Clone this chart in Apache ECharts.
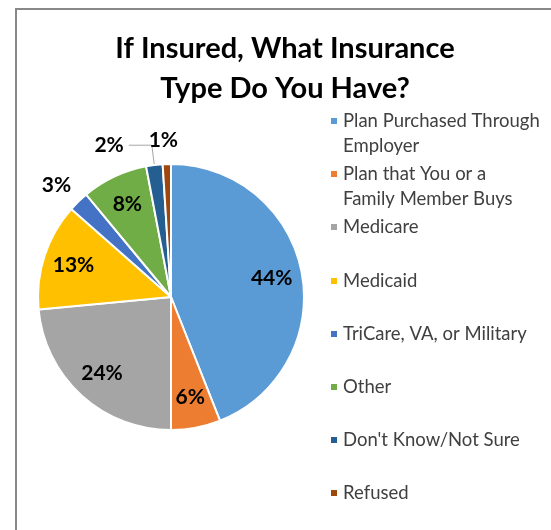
<!DOCTYPE html>
<html><head><meta charset="utf-8">
<script src="https://cdn.jsdelivr.net/npm/echarts@6/dist/echarts.min.js"></script>
<style>html,body{margin:0;padding:0;background:#fff}#c{width:551px;height:530px}</style>
</head><body><div id="c"></div>
<script>
const categories = ['Plan Purchased Through Employer','Plan that You or a Family Member Buys','Medicare','Medicaid','TriCare, VA, or Military','Other',"Don't Know/Not Sure",'Refused'];
const values = [44, 6, 23.5, 13, 2.5, 8, 2, 1];
const colors = ['#5B9BD5','#ED7D31','#A5A5A5','#FFC000','#4472C4','#70AD47','#255E91','#9E480E'];
const legendLines = [['Plan Purchased Through','Employer'],['Plan that You or a','Family Member Buys'],['Medicare'],['Medicaid'],['TriCare, VA, or Military'],['Other'],["Don't Know/Not Sure"],['Refused']];
const titleText = 'If Insured, What Insurance\nType Do You Have?';

// layout (not data)
const legendRowY = [121,174,227,281,334,387,440,493];
const LH = 25;
const outsideCfg = {
  4: {len: 22, len2: 0, dist: -8, line: false},
  6: {len: 20, len2: 23, dist: 5, line: true},
  7: {len: 24, len2: 0, dist: -12, line: false}
};

const chart = echarts.init(document.getElementById('c'), null, {renderer:'canvas'});
const baseData = categories.map((n,i)=>({name:n, value:values[i], itemStyle:{color:colors[i]}}));
const labelData = categories.map((n,i)=>{
  const o = outsideCfg[i];
  const d = {name:n, value:values[i]};
  if (o) {
    d.label = {position:'outside', distanceToLabelLine:o.dist};
    d.labelLine = {show:o.line, length:o.len, length2:o.len2, lineStyle:{color:'#A6A6A6', width:1}};
  }
  return d;
});

chart.setOption({
  backgroundColor:'#fff',
  animation:false,
  title:{
    text:titleText, left:285, textAlign:'center', top:29, padding:0,
    textStyle:{fontFamily:'Lato', fontSize:29, fontWeight:'bold', color:'#000', lineHeight:39.5}
  },
  graphic:[{type:'rect', silent:true, shape:{x:16, y:9, width:600, height:600},
    style:{fill:'none', stroke:'#888888', lineWidth:2}}],
  legend: categories.map((name,i)=>{
    const lines = legendLines[i];
    const two = lines.length > 1;
    return {
      data:[name], left:329, top: two ? legendRowY[i]-37.5 : legendRowY[i]-LH/2,
      padding:0, itemWidth:8, itemHeight:8, icon:'rect', selectedMode:false,
      formatter:()=> two ? '\n' + lines.join('\n') : lines[0],
      textStyle:{fontFamily:'Lato', fontSize:18.5, color:'#404040', lineHeight:LH}
    };
  }),
  series:[
    {type:'pie', center:[171,297], radius:133, startAngle:90, clockwise:true, silent:true,
     avoidLabelOverlap:false, data:baseData,
     itemStyle:{borderColor:'#fff', borderWidth:2},
     label:{show:false}, labelLine:{show:false}, emphasis:{disabled:true}},
    {type:'pie', center:[171,297], radius:[66,133], startAngle:90, clockwise:true, silent:true,
     avoidLabelOverlap:false, data:labelData,
     itemStyle:{color:'rgba(0,0,0,0)', borderWidth:0},
     label:{show:true, position:'inside', formatter:p=>Math.round(p.value)+'%',
       fontFamily:'Lato', fontSize:21, fontWeight:'bold', color:'#000'},
     labelLine:{show:false}, emphasis:{disabled:true}}
  ]
});
</script></body></html>
